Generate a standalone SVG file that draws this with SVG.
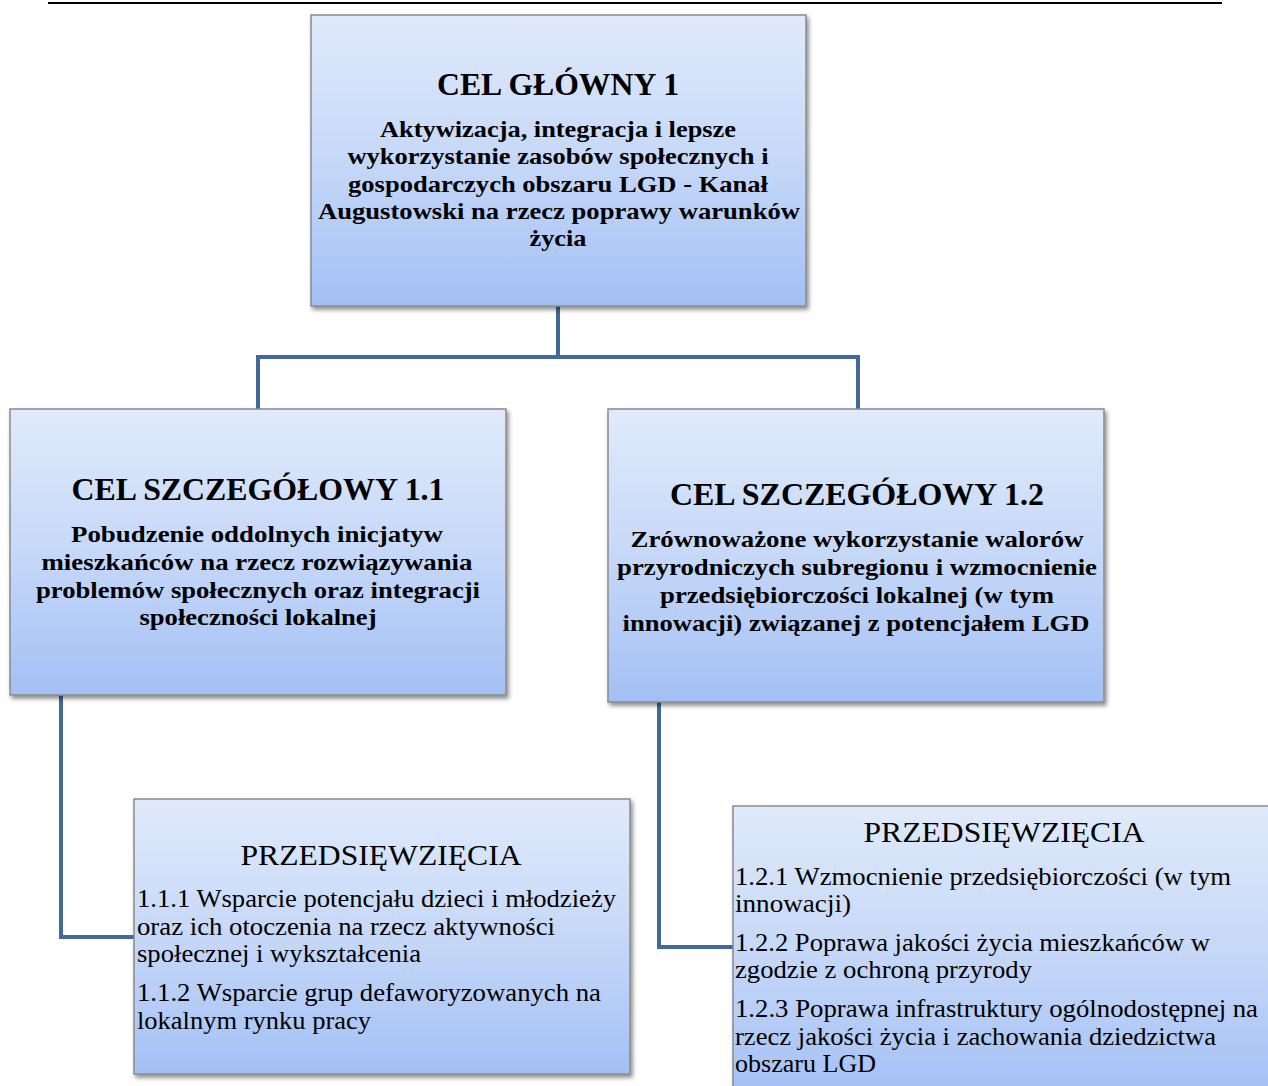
<svg xmlns="http://www.w3.org/2000/svg" width="1268" height="1086" viewBox="0 0 1268 1086">
<defs>
<linearGradient id="g" x1="0" y1="0" x2="0" y2="1">
<stop offset="0" stop-color="#e0eafb"/>
<stop offset="0.5" stop-color="#c6d8f8"/>
<stop offset="1" stop-color="#a3c0f5"/>
</linearGradient>
<filter id="sh" x="-5%" y="-5%" width="110%" height="115%">
<feDropShadow dx="2" dy="3" stdDeviation="2" flood-color="#000" flood-opacity="0.45"/>
</filter>
</defs>
<style>
.box{fill:url(#g);stroke:#8a8a8a;stroke-width:1.5;filter:url(#sh)}
.con{fill:none;stroke:#41699a;stroke-width:4}
.t{font-family:"Liberation Serif","Times New Roman",serif;fill:#000}
.h{font-size:32px;font-weight:bold;text-anchor:middle}
.b{font-size:23px;font-weight:bold;text-anchor:middle}
.p{font-size:30px;text-anchor:middle}
.i{font-size:25px}
</style>
<rect width="1268" height="1086" fill="#fff"/>
<line x1="48" y1="3" x2="1222" y2="3" stroke="#000" stroke-width="2"/>
<g id="connectors">
<path class="con" d="M558 306 V357 M258 409 V357 H858 V409"/>
<path class="con" d="M61 695 V937 H134"/>
<path class="con" d="M659 702 V947 H733"/>
</g>
<g id="main">
<rect class="box" x="311" y="15" width="495" height="291"/>
<text class="t h" x="558" y="95" textLength="242" lengthAdjust="spacingAndGlyphs">CEL GŁÓWNY 1</text>
<text class="t b" x="558" y="137" textLength="356" lengthAdjust="spacingAndGlyphs">Aktywizacja, integracja i lepsze</text>
<text class="t b" x="558" y="164" textLength="421" lengthAdjust="spacingAndGlyphs">wykorzystanie zasobów społecznych i</text>
<text class="t b" x="558" y="192" textLength="420" lengthAdjust="spacingAndGlyphs">gospodarczych obszaru LGD - Kanał</text>
<text class="t b" x="559" y="219" textLength="482" lengthAdjust="spacingAndGlyphs">Augustowski na rzecz poprawy warunków</text>
<text class="t b" x="558" y="246" textLength="57" lengthAdjust="spacingAndGlyphs">życia</text>
</g>
<g id="cel11">
<rect class="box" x="10" y="409" width="496" height="286"/>
<text class="t h" x="258" y="500" textLength="373" lengthAdjust="spacingAndGlyphs">CEL SZCZEGÓŁOWY 1.1</text>
<text class="t b" x="257" y="542" textLength="372" lengthAdjust="spacingAndGlyphs">Pobudzenie oddolnych inicjatyw</text>
<text class="t b" x="257" y="570" textLength="431" lengthAdjust="spacingAndGlyphs">mieszkańców na rzecz rozwiązywania</text>
<text class="t b" x="258" y="598" textLength="444" lengthAdjust="spacingAndGlyphs">problemów społecznych oraz integracji</text>
<text class="t b" x="258" y="625" textLength="237" lengthAdjust="spacingAndGlyphs">społeczności lokalnej</text>
</g>
<g id="cel12">
<rect class="box" x="608" y="409" width="496" height="293"/>
<text class="t h" x="857" y="505" textLength="374" lengthAdjust="spacingAndGlyphs">CEL SZCZEGÓŁOWY 1.2</text>
<text class="t b" x="857" y="547" textLength="453" lengthAdjust="spacingAndGlyphs">Zrównoważone wykorzystanie walorów</text>
<text class="t b" x="857" y="575" textLength="480" lengthAdjust="spacingAndGlyphs">przyrodniczych subregionu i wzmocnienie</text>
<text class="t b" x="857" y="603" textLength="394" lengthAdjust="spacingAndGlyphs">przedsiębiorczości lokalnej (w tym</text>
<text class="t b" x="856" y="631" textLength="467" lengthAdjust="spacingAndGlyphs">innowacji) związanej z potencjałem LGD</text>
</g>
<g id="przed11">
<rect class="box" x="134" y="799" width="496" height="275"/>
<text class="t p" x="381" y="865" textLength="281" lengthAdjust="spacingAndGlyphs">PRZEDSIĘWZIĘCIA</text>
<text class="t i" x="137" y="907" textLength="479" lengthAdjust="spacingAndGlyphs">1.1.1 Wsparcie potencjału dzieci i młodzieży</text>
<text class="t i" x="137" y="935" textLength="418" lengthAdjust="spacingAndGlyphs">oraz ich otoczenia na rzecz aktywności</text>
<text class="t i" x="137" y="962" textLength="284" lengthAdjust="spacingAndGlyphs">społecznej i wykształcenia</text>
<text class="t i" x="137" y="1001" textLength="464" lengthAdjust="spacingAndGlyphs">1.1.2 Wsparcie grup defaworyzowanych na</text>
<text class="t i" x="137" y="1029" textLength="234" lengthAdjust="spacingAndGlyphs">lokalnym rynku pracy</text>
</g>
<g id="przed12">
<rect class="box" x="733" y="806" width="545" height="290"/>
<text class="t p" x="1004" y="842" textLength="281" lengthAdjust="spacingAndGlyphs">PRZEDSIĘWZIĘCIA</text>
<text class="t i" x="735" y="885" textLength="496" lengthAdjust="spacingAndGlyphs">1.2.1 Wzmocnienie przedsiębiorczości (w tym</text>
<text class="t i" x="735" y="912" textLength="116" lengthAdjust="spacingAndGlyphs">innowacji)</text>
<text class="t i" x="735" y="951" textLength="475" lengthAdjust="spacingAndGlyphs">1.2.2 Poprawa jakości życia mieszkańców w</text>
<text class="t i" x="735" y="978" textLength="297" lengthAdjust="spacingAndGlyphs">zgodzie z ochroną przyrody</text>
<text class="t i" x="735" y="1017" textLength="523" lengthAdjust="spacingAndGlyphs">1.2.3 Poprawa infrastruktury ogólnodostępnej na</text>
<text class="t i" x="735" y="1045" textLength="481" lengthAdjust="spacingAndGlyphs">rzecz jakości życia i zachowania dziedzictwa</text>
<text class="t i" x="735" y="1072" textLength="141" lengthAdjust="spacingAndGlyphs">obszaru LGD</text>
</g>
</svg>
